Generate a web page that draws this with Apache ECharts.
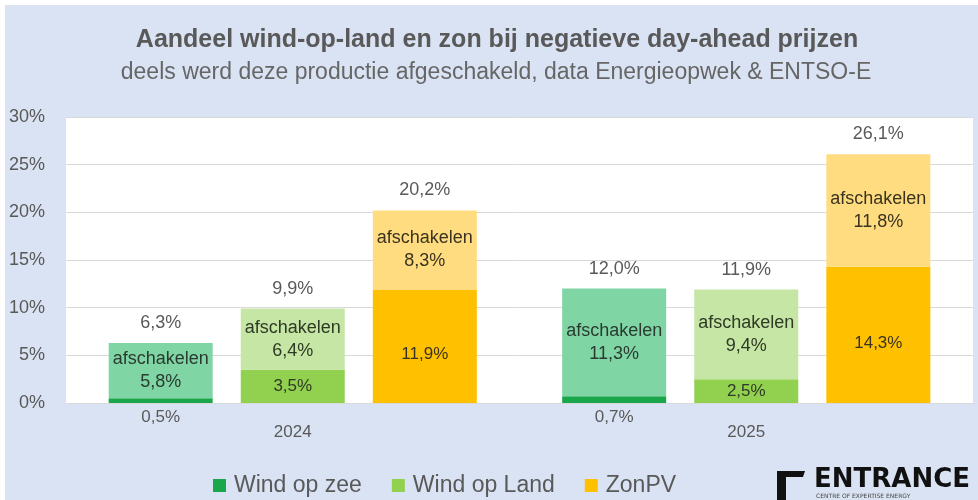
<!DOCTYPE html>
<html>
<head>
<meta charset="utf-8">
<script src="https://cdn.jsdelivr.net/npm/echarts@6/dist/echarts.min.js"></script>
<style>
  html, body { margin: 0; padding: 0; background: #ffffff; }
  #chart { width: 978px; height: 500px; }
</style>
</head>
<body>
<div id="chart"></div>
<script>
const categories = ['2024', '2025'];
const yTicks = [0, 5, 10, 15, 20, 25, 30];

const windZeeBase = [0.5, 0.7];
const windZeeAfsch = [5.8, 11.3];
const windZeeTotal = [6.3, 12.0];

const windLandBase = [3.5, 2.5];
const windLandAfsch = [6.4, 9.4];
const windLandTotal = [9.9, 11.9];

const zonBase = [11.9, 14.3];
const zonAfsch = [8.3, 11.8];
const zonTotal = [20.2, 26.1];

const titleText = 'Aandeel wind-op-land en zon bij negatieve day-ahead prijzen';
const subtitleText = 'deels werd deze productie afgeschakeld, data Energieopwek & ENTSO-E';

const FONT = 'Liberation Sans, Arial, sans-serif';
const fmt = v => v.toFixed(1).replace('.', ',') + '%';

const BAR_W = 104;
const GAP = '27%';

function baseSeries(name, stack, data, color, labelPos, labelColor, offsetY) {
  return {
    name, type: 'bar', stack, data, barWidth: BAR_W, barGap: GAP,
    itemStyle: { color },
    label: {
      show: true, position: labelPos, distance: 6, offset: [0, offsetY || 0],
      formatter: p => fmt(p.value),
      color: labelColor, fontSize: 17, fontFamily: FONT
    },
    z: 3
  };
}
function afschSeries(name, stack, data, color, labelColor) {
  return {
    name, type: 'bar', stack, data, barWidth: BAR_W, barGap: GAP,
    itemStyle: { color },
    label: {
      show: true, position: 'inside',
      formatter: p => 'afschakelen\n' + fmt(p.value),
      color: labelColor, fontSize: 18, lineHeight: 23, fontFamily: FONT
    },
    z: 3
  };
}
function totalSeries(name, stack, totals) {
  return {
    name, type: 'bar', stack, data: totals.map(() => 0), barWidth: BAR_W, barGap: GAP,
    itemStyle: { color: 'rgba(0,0,0,0)' },
    label: {
      show: true, position: 'top', distance: 11,
      formatter: p => fmt(totals[p.dataIndex]),
      color: '#595959', fontSize: 18, fontFamily: FONT
    },
    silent: true,
    z: 4
  };
}

const chart = echarts.init(document.getElementById('chart'), null, { renderer: 'canvas' });

chart.setOption({
  animation: false,
  backgroundColor: '#ffffff',
  graphic: [
    { type: 'rect', z: -100, silent: true,
      shape: { x: 5, y: 5, width: 973, height: 495 },
      style: { fill: '#dae3f3' } },
    { type: 'text', z: 10, silent: true,
      style: { text: titleText, x: 497, y: 40, textAlign: 'center', textVerticalAlign: 'middle',
               fill: '#595959', font: 'bold 25px ' + FONT } },
    { type: 'text', z: 10, silent: true,
      style: { text: subtitleText, x: 496, y: 73, textAlign: 'center', textVerticalAlign: 'middle',
               fill: '#666666', font: '23px ' + FONT } },
    { type: 'rect', z: 10, silent: true,
      shape: { x: 777, y: 473, width: 9, height: 27 }, style: { fill: '#111111' } },
    { type: 'polygon', z: 10, silent: true,
      shape: { points: [[777, 471], [805, 471], [803, 477], [777, 477]] }, style: { fill: '#111111' } },
    { type: 'text', z: 10, silent: true,
      style: { text: 'ENTRANCE', x: 814, y: 480, textVerticalAlign: 'middle',
               fill: '#111111', font: 'bold 26px DejaVu Sans, sans-serif' } },
    { type: 'text', z: 10, silent: true,
      style: { text: 'CENTRE OF EXPERTISE ENERGY', x: 816, y: 496, textVerticalAlign: 'middle',
               fill: '#444444', font: '6px DejaVu Sans, sans-serif' } }
  ],
  grid: {
    left: 66, right: 5, top: 117, bottom: 97,
    show: true, backgroundColor: '#ffffff', borderWidth: 0
  },
  legend: {
    data: ['Wind op zee', 'Wind op Land', 'ZonPV'],
    left: 208, top: 469,
    icon: 'rect', itemWidth: 13, itemHeight: 13, itemGap: 30,
    textStyle: { color: '#595959', fontSize: 23, fontFamily: FONT, padding: [0, 0, 0, 3] }
  },
  xAxis: {
    type: 'category', data: categories,
    axisLine: { show: true, lineStyle: { color: '#d9d9d9' } },
    axisTick: { show: false },
    axisLabel: { color: '#595959', fontSize: 17, fontFamily: FONT, margin: 21 }
  },
  yAxis: {
    type: 'value', min: yTicks[0], max: yTicks[yTicks.length - 1], interval: 5,
    axisLine: { show: false }, axisTick: { show: false },
    splitLine: { lineStyle: { color: '#d9d9d9', width: 1 } },
    axisLabel: { color: '#595959', fontSize: 18, fontFamily: FONT, margin: 21,
                 formatter: v => v + '%' }
  },
  series: [
    baseSeries('Wind op zee', 'zee', windZeeBase, '#1aa64a', 'bottom', '#595959'),
    afschSeries('Wind op zee afschakelen', 'zee', windZeeAfsch, '#7fd6a4', '#2b3a30'),
    totalSeries('Wind op zee totaal', 'zee', windZeeTotal),

    baseSeries('Wind op Land', 'land', windLandBase, '#92d050', 'inside', '#2f3a25'),
    afschSeries('Wind op Land afschakelen', 'land', windLandAfsch, '#c5e6a5', '#2f3a25'),
    totalSeries('Wind op Land totaal', 'land', windLandTotal),

    baseSeries('ZonPV', 'zon', zonBase, '#ffc000', 'inside', '#3a3320', 8),
    afschSeries('ZonPV afschakelen', 'zon', zonAfsch, '#ffdc7f', '#3a3320'),
    totalSeries('ZonPV totaal', 'zon', zonTotal)
  ]
});
</script>
</body>
</html>
